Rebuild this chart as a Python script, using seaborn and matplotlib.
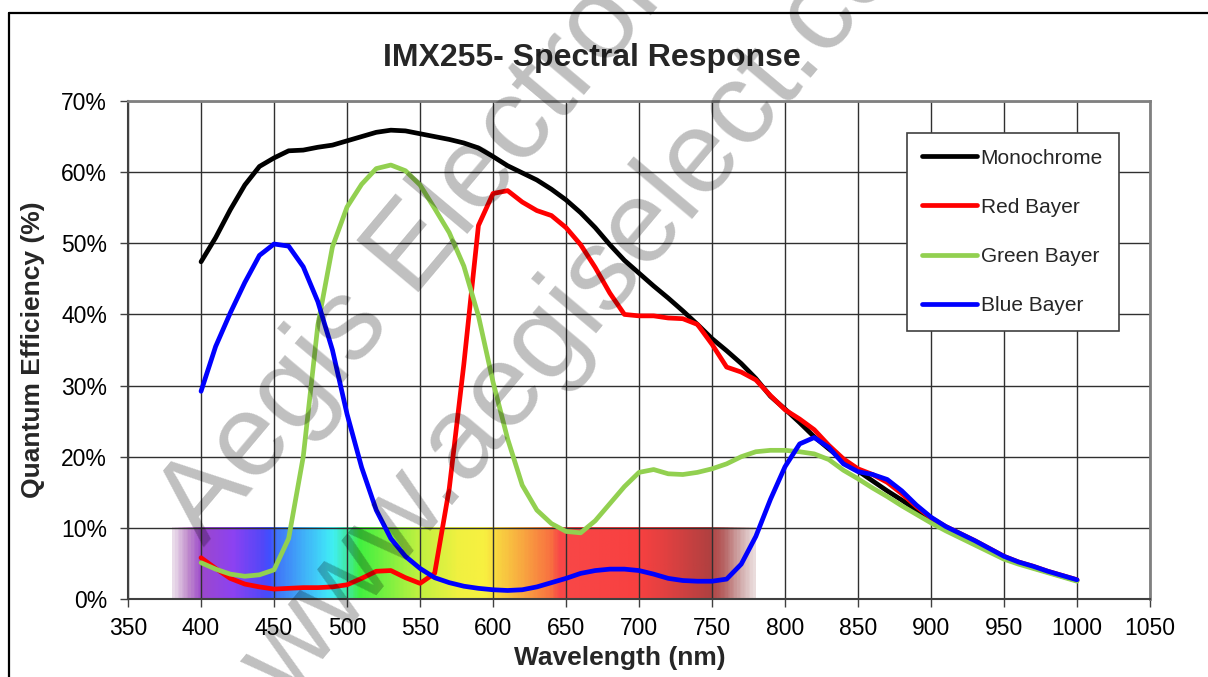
import numpy as np
import pandas as pd
import matplotlib
matplotlib.use('Agg')
import matplotlib.pyplot as plt
import seaborn as sns
from matplotlib.colors import LinearSegmentedColormap
from matplotlib.lines import Line2D

# Wavelength grid (nm) and quantum efficiency (%)
wavelength = list(range(400, 1001, 10))

monochrome = [47.4, 50.8, 54.7, 58.2, 60.8, 62.0, 63.0, 63.1, 63.5, 63.8,
              64.4, 65.0, 65.6, 65.9, 65.8, 65.4, 65.0, 64.6, 64.1, 63.4,
              62.2, 60.9, 59.9, 58.9, 57.6, 56.1, 54.3, 52.2, 49.8, 47.6,
              45.8, 44.0, 42.3, 40.5, 38.6, 36.6, 34.9, 33.1, 31.0, 28.5,
              26.7, 24.8, 22.8, 21.1, 19.5, 18.0, 16.6, 15.2, 13.9, 12.5,
              11.1, 9.9, 8.9, 7.9, 6.9, 5.9, 5.1, 4.4, 3.8, 3.2, 2.6]

red_bayer = [5.8, 4.3, 2.9, 2.1, 1.7, 1.4, 1.5, 1.6, 1.6, 1.7,
             2.0, 2.9, 3.9, 4.0, 3.0, 2.2, 3.6, 15.5, 33.0, 52.5,
             57.0, 57.4, 55.8, 54.6, 53.9, 52.2, 49.8, 46.6, 43.0, 40.0,
             39.8, 39.8, 39.5, 39.4, 38.6, 35.8, 32.6, 31.9, 30.8, 28.6,
             26.6, 25.3, 23.8, 21.6, 19.7, 18.3, 17.5, 16.4, 14.8, 13.0,
             11.4, 10.2, 9.2, 8.2, 7.1, 6.0, 5.2, 4.6, 3.9, 3.3, 2.7]

green_bayer = [5.1, 4.2, 3.5, 3.2, 3.4, 4.1, 8.5, 20.0, 38.5, 49.5,
               55.1, 58.3, 60.5, 61.0, 60.2, 58.2, 54.9, 51.5, 46.8, 39.8,
               30.5, 22.5, 16.0, 12.5, 10.6, 9.5, 9.3, 11.0, 13.4, 15.8,
               17.8, 18.2, 17.6, 17.5, 17.8, 18.3, 19.0, 20.0, 20.7, 20.9,
               20.9, 20.7, 20.4, 19.6, 18.1, 16.9, 15.6, 14.4, 13.1, 11.9,
               10.7, 9.6, 8.6, 7.6, 6.6, 5.6, 4.9, 4.3, 3.7, 3.1, 2.5]

blue_bayer = [29.2, 35.5, 40.2, 44.5, 48.3, 49.9, 49.6, 46.7, 41.8, 35.0,
              26.0, 18.5, 12.5, 8.5, 6.0, 4.3, 3.0, 2.3, 1.8, 1.5,
              1.3, 1.2, 1.3, 1.7, 2.3, 2.9, 3.6, 4.0, 4.2, 4.2,
              4.0, 3.5, 2.9, 2.6, 2.5, 2.5, 2.8, 4.9, 8.8, 14.0,
              18.6, 21.8, 22.7, 21.3, 19.0, 17.9, 17.5, 16.8, 15.2, 13.2,
              11.5, 10.2, 9.2, 8.2, 7.1, 6.0, 5.2, 4.6, 3.9, 3.3, 2.7]

series_names = ['Monochrome', 'Red Bayer', 'Green Bayer', 'Blue Bayer']
series_colors = ['#000000', '#FF0000', '#92D050', '#0000FF']

# Visible spectrum band behind the curves (nm, colour)
spectrum_nm = [380, 390, 399, 421, 442, 446, 452, 467, 485, 490, 500, 508, 524,
               549, 576, 594, 605, 620, 640, 646, 700, 720, 740, 750, 760, 770, 780]
spectrum_col = ['#eadcea', '#c08ccc', '#9c48cc', '#8c42f2', '#5048f8', '#4050ff',
                '#4078f8', '#40a8f8', '#40e0f8', '#40f0f0', '#40e8a0', '#40f040',
                '#70f040', '#c0f040', '#f0f040', '#f8f040', '#f8d040', '#f8a840',
                '#f87040', '#f84848', '#f84040', '#e04040', '#c04040', '#b04040',
                '#b86868', '#d0a8a8', '#eadcdc']

x_ticks = list(range(350, 1051, 50))
y_ticks = list(range(0, 71, 10))

sns.set_theme(style='white')
plt.rcParams['font.family'] = ['Liberation Sans', 'DejaVu Sans']

df = pd.DataFrame({
    'wavelength': wavelength * 4,
    'qe': monochrome + red_bayer + green_bayer + blue_bayer,
    'series': [n for n in series_names for _ in wavelength],
})

fig = plt.figure(figsize=(12.08, 6.77), dpi=100)
ax = fig.add_axes([0.106, 0.1152, 0.846, 0.7356])

# spectrum strip
span = spectrum_nm[-1] - spectrum_nm[0]
cmap = LinearSegmentedColormap.from_list(
    'spec', [((n - spectrum_nm[0]) / span, c) for n, c in zip(spectrum_nm, spectrum_col)])
ax.imshow(np.linspace(0, 1, 400)[None, :], cmap=cmap, aspect='auto',
          extent=(spectrum_nm[0], spectrum_nm[-1], 0, 10), zorder=0.2)

sns.lineplot(data=df, x='wavelength', y='qe', hue='series', hue_order=series_names,
             palette=dict(zip(series_names, series_colors)), linewidth=3.4,
             errorbar=None, legend=False, ax=ax, zorder=3)
for ln in ax.get_lines():
    ln.set_solid_capstyle('round')
    ln.set_solid_joinstyle('round')

ax.set_xlim(350, 1050)
ax.set_ylim(0, 70)
ax.set_xticks(x_ticks)
ax.set_yticks(y_ticks)
ax.set_yticklabels([f'{v}%' for v in y_ticks])
ax.grid(True, color='#303030', linewidth=1)
ax.tick_params(axis='both', direction='out', length=6, width=1, color='#404040',
               labelsize=16.5, colors='black', bottom=True, left=True)
ax.tick_params(axis='x', pad=7)
ax.tick_params(axis='y', pad=9)
for side in ['top', 'right']:
    ax.spines[side].set_color('#808080')
    ax.spines[side].set_linewidth(2)
for side in ['left', 'bottom']:
    ax.spines[side].set_color('#404040')
    ax.spines[side].set_linewidth(1.5)

ax.set_xlabel('Wavelength (nm)', fontsize=19, fontweight='bold')
ax.set_ylabel('Quantum Efficiency (%)', fontsize=19, fontweight='bold')
ax.xaxis.label.set_va('center')
ax.yaxis.label.set_va('center')
ax.xaxis.set_label_coords(0.481, -0.1185)
ax.yaxis.set_label_coords(-0.093, 0.5)

handles = [Line2D([], [], color=c, lw=3.4, solid_capstyle='round') for c in series_colors]
leg = ax.legend(handles, series_names, loc='upper left', bbox_to_anchor=(0.762, 0.936),
                borderaxespad=0, fontsize=15, frameon=True, fancybox=False,
                handlelength=2.6, handletextpad=0.2, labelspacing=1.45,
                borderpad=0.75, framealpha=1)
leg.get_frame().set_edgecolor('#404040')
leg.get_frame().set_linewidth(1.2)

W, H = 1208, 677
fig.text(592 / W, 1 - 58 / H, 'IMX255- Spectral Response', fontsize=23,
         fontweight='bold', ha='center', va='center')

# outer frame
fig.add_artist(Line2D([8.5 / W, 8.5 / W], [0, 1 - 13 / H], color='black', lw=1.6))
fig.add_artist(Line2D([8.5 / W, 1], [1 - 13 / H, 1 - 13 / H], color='black', lw=1.6))

# watermark
for txt, (px, py) in [('Aegis Electronic', (205, 548)),
                      ('www.aegiselect.com', (288, 702))]:
    fig.text(px / W, 1 - py / H, txt, fontsize=84, color='black', alpha=0.25,
             rotation=50, rotation_mode='anchor', ha='left', va='baseline', zorder=10)

fig.savefig('out.png', dpi=100)
